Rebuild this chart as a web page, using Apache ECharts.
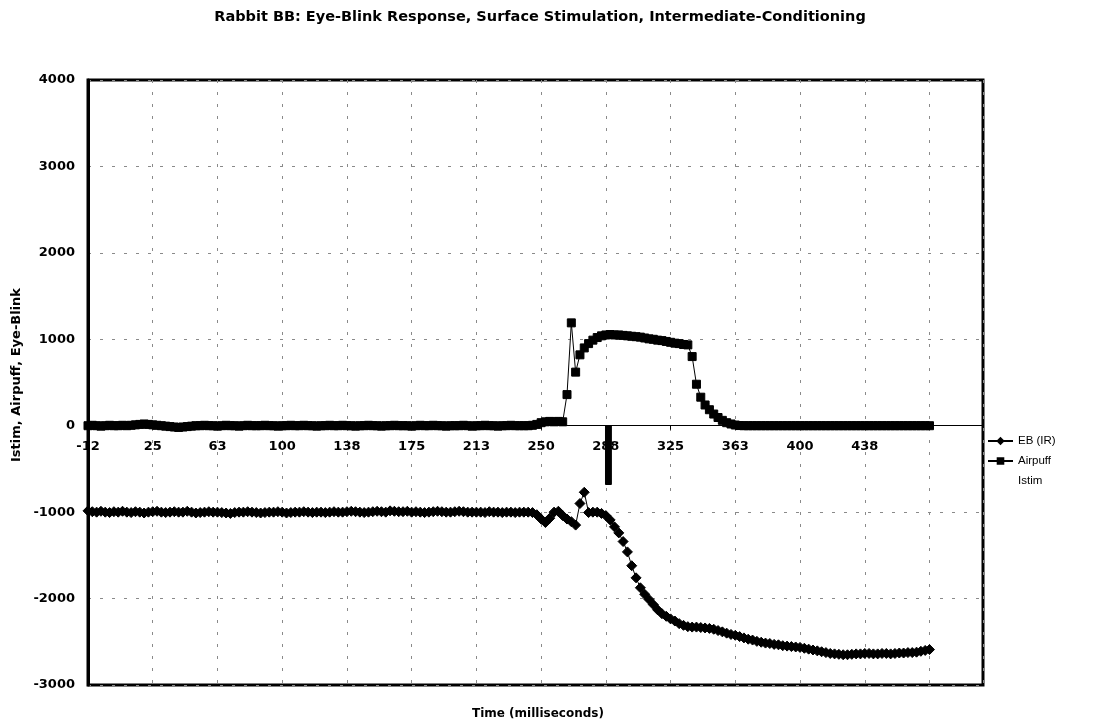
<!DOCTYPE html>
<html>
<head>
<meta charset="utf-8">
<title>Rabbit BB: Eye-Blink Response</title>
<script src="https://cdn.jsdelivr.net/npm/echarts@6/dist/echarts.min.js"></script>
<style>
  html, body { margin: 0; padding: 0; background: #fff; }
  #chart { width: 1118px; height: 726px; }
</style>
</head>
<body>
<div id="chart"></div>
<script>
// Sampling grid: first sample time and spacing (ms)
const T0 = -12.5;
const DT = 2.5;

// Tick labels shown along the time axis (every 37.5 ms)
const tickLabels = ['-12', '25', '63', '100', '138', '175', '213', '250', '288', '325', '363', '400', '438'];

// Eye-blink (IR) trace, one value per sample
const ebIR = [
  -985, -995, -1000, -990, -1000, -1005, -995, -1000, -990, -1000,
  -1005, -995, -1000, -1010, -1000, -995, -990, -1000, -1005, -1000,
  -995, -1000, -1000, -990, -1000, -1010, -1005, -1000, -995, -1000,
  -1000, -1005, -1010, -1015, -1005, -1000, -1000, -995, -1000, -1005,
  -1010, -1005, -1000, -1000, -995, -1000, -1010, -1005, -1000, -1000,
  -995, -1000, -1005, -1000, -1000, -1005, -1000, -995, -1000, -1000,
  -995, -990, -995, -1000, -1005, -1000, -995, -990, -995, -1000,
  -985, -990, -995, -995, -990, -1000, -995, -1000, -1005, -1000,
  -995, -990, -995, -1000, -1000, -995, -990, -995, -1000, -1000,
  -1000, -1000, -1005, -995, -1000, -1000, -1005, -1000, -1000, -1005,
  -1000, -1000, -1000, -1005, -1030, -1080, -1120, -1070, -1000, -990,
  -1040, -1080, -1110, -1150, -900, -770, -1005, -1000, -1000, -1015,
  -1040, -1090, -1170, -1240, -1340, -1460, -1620, -1760, -1875, -1950,
  -2010, -2070, -2130, -2175, -2205, -2235, -2260, -2290, -2310, -2325,
  -2330, -2330, -2335, -2340, -2345, -2355, -2370, -2385, -2400, -2415,
  -2425, -2440, -2455, -2470, -2480, -2495, -2505, -2515, -2520, -2530,
  -2535, -2545, -2550, -2555, -2560, -2565, -2575, -2585, -2595, -2605,
  -2615, -2625, -2635, -2640, -2645, -2650, -2650, -2645, -2640, -2640,
  -2635, -2635, -2640, -2640, -2635, -2635, -2640, -2635, -2630, -2630,
  -2625, -2625, -2620, -2610, -2600, -2590
];

// Airpuff pressure trace, one value per sample
const airpuff = [
  0, 5, 0, -5, 0, 5, 0, 0, 5, 0,
  5, 10, 15, 20, 15, 10, 5, 0, -5, -10,
  -15, -20, -15, -10, -5, 0, 0, 5, 0, 0,
  -5, 0, 5, 0, 0, -5, 0, 5, 0, 0,
  0, 5, 0, 0, -5, 0, 0, 5, 0, 0,
  5, 0, 0, -5, 0, 0, 5, 0, 0, 5,
  0, 0, -5, 0, 0, 5, 0, 0, -5, 0,
  0, 5, 0, 0, 0, -5, 0, 5, 0, 0,
  5, 0, 0, -5, 0, 0, 0, 5, 0, -5,
  0, 0, 5, 0, 0, -5, 0, 0, 5, 0,
  0, 0, 0, 5, 15, 35, 45, 50, 45, 50,
  45, 360, 1190, 620, 820, 900, 950, 990, 1020, 1040,
  1050, 1055, 1050, 1050, 1045, 1040, 1035, 1030, 1025, 1015,
  1005, 1000, 990, 985, 975, 965, 955, 950, 940, 935,
  800, 480, 330, 240, 185, 135, 95, 62, 35, 20,
  8, 2, 0, 0, 0, 0, 0, 0, 0, 0,
  0, 0, 0, 0, 0, 0, 0, 0, 0, 0,
  0, 0, 0, 0, 0, 0, 0, 0, 0, 0,
  0, 0, 0, 0, 0, 0, 0, 0, 0, 0,
  0, 0, 0, 0, 0, 0
];

// Stimulation current pulse (time in ms, value)
const istimTime = [287.3, 287.3, 290.7, 290.7];
const istimValue = [0, -680, -680, 0];

// Value-axis range
const Y_MIN = -3000;
const Y_MAX = 4000;

const toPairs = (vals) => vals.map((v, i) => [T0 + i * DT, v]);

const SANS = '"Liberation Sans", Arial, Helvetica, sans-serif';
const WIDE = '"DejaVu Sans", Verdana, sans-serif';

// Plot rectangle
const GRID = { left: 88, top: 80, width: 895, height: 605 };
// Lift the time axis from the bottom edge up to the zero line
const zeroLift = GRID.height * (0 - Y_MIN) / (Y_MAX - Y_MIN);

const chart = echarts.init(document.getElementById('chart'), null, { renderer: 'canvas' });

chart.setOption({
  animation: false,
  backgroundColor: '#ffffff',
  title: {
    text: 'Rabbit BB: Eye-Blink Response, Surface Stimulation, Intermediate-Conditioning',
    left: 535,
    top: 5,
    textAlign: 'center',
    textStyle: { fontFamily: WIDE, fontSize: 14.5, fontWeight: 'bold', color: '#000' }
  },
  grid: Object.assign({}, GRID, {
    show: true, borderColor: '#000', borderWidth: 3, backgroundColor: 'transparent'
  }),
  legend: {
    orient: 'vertical',
    left: 982,
    top: 430,
    itemGap: 8,
    itemWidth: 25,
    itemHeight: 7,
    textStyle: { fontFamily: SANS, fontSize: 11.5, color: '#000' },
    data: [
      { name: 'EB (IR)' },
      { name: 'Airpuff' },
      { name: 'Istim', icon: 'rect', itemStyle: { color: 'rgba(0,0,0,0)', borderWidth: 0 } }
    ]
  },
  xAxis: {
    type: 'value',
    min: T0,
    max: 506,
    interval: 37.5,
    position: 'bottom',
    offset: -zeroLift,
    axisLine: { onZero: false, lineStyle: { color: '#000', width: 1 } },
    axisTick: { show: true, length: 4, lineStyle: { color: '#000' } },
    axisLabel: {
      margin: 14,
      showMaxLabel: false,
      fontFamily: WIDE, fontSize: 13, fontWeight: 'bold', color: '#000',
      formatter: (val) => {
        const k = Math.round((val - T0) / 37.5);
        return tickLabels[k] !== undefined ? tickLabels[k] : '';
      }
    },
    splitLine: { show: true, lineStyle: { color: '#8a8a8a', width: 1, type: [3, 9] } }
  },
  yAxis: {
    type: 'value',
    min: Y_MIN,
    max: Y_MAX,
    interval: 1000,
    axisLine: { show: true, onZero: false, lineStyle: { color: '#000', width: 3 } },
    axisTick: { show: false },
    axisLabel: {
      margin: 13, fontFamily: WIDE, fontSize: 13, fontWeight: 'bold', color: '#000',
      formatter: (val) => String(val)
    },
    splitLine: { show: true, lineStyle: { color: '#8a8a8a', width: 1, type: [3, 9] } }
  },
  graphic: [
    {
      type: 'text', left: 472, top: 708,
      style: { text: 'Time (milliseconds)', fill: '#000', font: 'bold 12px ' + WIDE }
    },
    {
      type: 'text', x: 17, y: 375, rotation: Math.PI / 2,
      style: {
        text: 'Istim, Airpuff, Eye-Blink', fill: '#000', font: 'bold 13px ' + WIDE,
        align: 'center', verticalAlign: 'middle'
      }
    }
  ],
  series: [
    {
      name: 'EB (IR)',
      type: 'line',
      data: toPairs(ebIR),
      symbol: 'diamond',
      symbolSize: 10,
      itemStyle: { color: '#000', borderColor: '#000', borderWidth: 1 },
      lineStyle: { color: '#000', width: 1 },
      z: 3
    },
    {
      name: 'Airpuff',
      type: 'line',
      data: toPairs(airpuff),
      symbol: 'rect',
      symbolSize: 8,
      itemStyle: { color: '#000', borderColor: '#000', borderWidth: 1 },
      lineStyle: { color: '#000', width: 1 },
      z: 4
    },
    {
      name: 'Istim',
      type: 'line',
      data: istimTime.map((t, i) => [t, istimValue[i]]),
      showSymbol: false,
      symbol: 'none',
      itemStyle: { color: '#000' },
      lineStyle: { color: '#000', width: 1 },
      areaStyle: { color: '#000', opacity: 1 },
      z: 5
    }
  ]
});
</script>
</body>
</html>
